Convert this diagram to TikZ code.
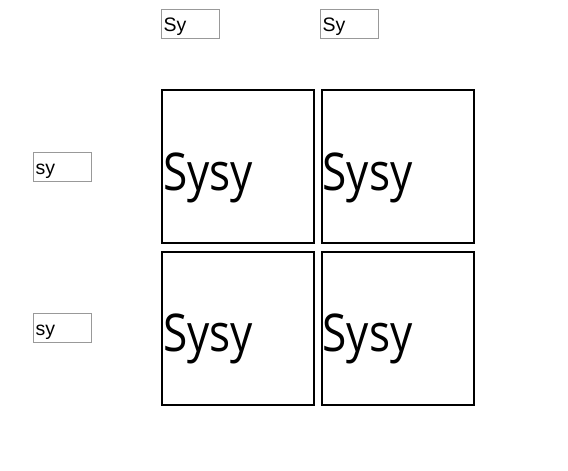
\documentclass[tikz,border=0pt]{standalone}
\usepackage{fontspec}
\setmainfont{Liberation Sans}
\newfontfamily\cellfont[FakeStretch=0.85]{Open Sans}
\usepackage{tikz}

\begin{document}
\begin{tikzpicture}[
    x=1pt, y=-1pt,
    allele/.style={rectangle, draw=black!40, line width=1pt, minimum width=58pt, minimum height=29pt, text width=54pt, inner xsep=2pt, inner ysep=0pt, align=left, text height=14pt, text depth=0pt, font=\fontsize{19.5}{21}\selectfont},
    cell/.style={rectangle, draw, line width=2pt, minimum width=152pt, minimum height=153pt, text width=150pt, inner xsep=1pt, inner ysep=0pt, align=left, text height=52pt, text depth=5pt, font=\cellfont\fontsize{52}{56}\selectfont}
]
    \useasboundingbox (0,0) rectangle (568,471);

    % Parent alleles
    \node[allele] (top1) at (190.5,24) {Sy};
    \node[allele] (top2) at (349.5,24) {Sy};
    \node[allele] (left1) at (62.5,167) {sy};
    \node[allele] (left2) at (62.5,328) {sy};

    % Offspring cells
    \node[cell] (c11) at (238,166.5) {Sysy};
    \node[cell] (c12) at (397.5,166.5) {Sysy};
    \node[cell] (c21) at (238,328) {Sysy};
    \node[cell] (c22) at (397.5,328) {Sysy};
\end{tikzpicture}
\end{document}
